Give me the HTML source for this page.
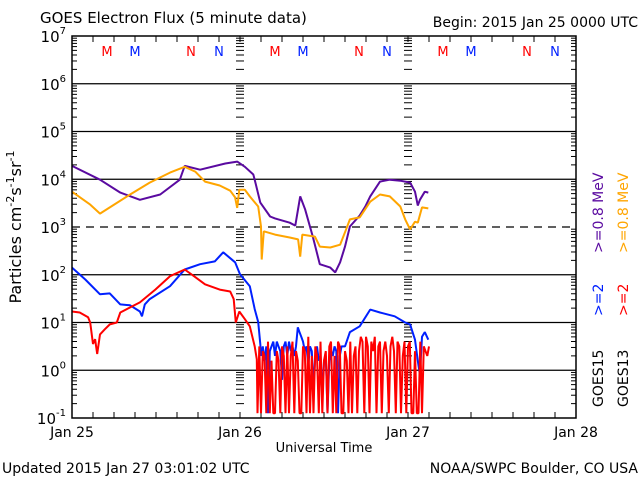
<!DOCTYPE html>
<html><head><meta charset="utf-8"><style>
body{margin:0;background:#fff;}
svg{display:block;font-family:"DejaVu Sans","Liberation Sans",sans-serif;}
</style></head><body>
<svg id="chart" width="640" height="480" viewBox="0 0 640 480">
<rect width="640" height="480" fill="#fff"/>
<g id="grid"></g>
<g id="ticks"></g>
<g id="series"></g>
<rect x="72" y="36" width="504" height="382" fill="none" stroke="#000" stroke-width="1.5"/>
<g id="labels" font-size="14" fill="#000"></g>
<text x="40" y="23" font-size="15">GOES Electron Flux (5 minute data)</text>
<text x="638" y="27" font-size="14" text-anchor="end">Begin: 2015 Jan 25 0000 UTC</text>
<text transform="translate(21,227) rotate(-90)" font-size="16" text-anchor="middle">Particles cm<tspan dy="-7" font-size="11">-2</tspan><tspan dy="7">s</tspan><tspan dy="-7" font-size="11">-1</tspan><tspan dy="7">sr</tspan><tspan dy="-7" font-size="11">-1</tspan></text>
<text x="324" y="452" font-size="13" text-anchor="middle">Universal Time</text>
<text x="2" y="473" font-size="14">Updated 2015 Jan 27 03:01:02 UTC</text>
<text x="638" y="473" font-size="14" text-anchor="end">NOAA/SWPC Boulder, CO USA</text>
<g font-size="14">
<text transform="translate(603,253) rotate(-90)" fill="#5a0aa0">&gt;=0.8 MeV</text>
<text transform="translate(628,253) rotate(-90)" fill="#ffa500">&gt;=0.8 MeV</text>
<text transform="translate(603,316) rotate(-90)" fill="#0020ff">&gt;=2</text>
<text transform="translate(628,316) rotate(-90)" fill="#ff0000">&gt;=2</text>
<text transform="translate(603,407) rotate(-90)" fill="#000">GOES15</text>
<text transform="translate(628,407) rotate(-90)" fill="#000">GOES13</text>
</g>
</svg>
<script>
const days = ["Jan 25","Jan 26","Jan 27","Jan 28"];
const decades = [-1,0,1,2,3,4,5,6,7];
const purpleT = [0,4,6.9,9.7,12.6,15.4,16.1,18.3,21.9,23.6,24.7,25.9,26.1,26.9,28.3,29,31.1,31.9,32.6,33.3,34.4,35.4,36.9,37.6,38.3,39,39.7,41.1,41.9,42.6,44,45.4,46.9,48.3,49,49.4,49.7,50.4,50.9];
const purpleV = [4.28,3.99,3.72,3.57,3.68,3.99,4.28,4.20,4.33,4.37,4.26,4.10,3.99,3.51,3.22,3.18,3.09,3.03,3.64,3.37,2.80,2.22,2.15,2.05,2.26,2.59,3.01,3.24,3.43,3.64,3.95,3.99,3.97,3.93,3.74,3.45,3.57,3.74,3.72];
const orangeT = [0,2.6,4,5.4,8.3,11.1,14,16.1,17.6,19,21.1,22.6,23.3,23.6,23.9,24.7,25.4,26.6,27,27.1,27.4,29,31.1,32.3,32.6,32.9,34.7,35.4,36.9,38.3,39,39.7,41.1,42.6,44,45.4,46.9,47.6,48.3,49,49.4,50,50.9];
const orangeV = [3.74,3.47,3.28,3.41,3.68,3.93,4.14,4.26,4.16,3.95,3.87,3.76,3.62,3.40,3.78,3.78,3.64,3.43,3.01,2.32,2.91,2.84,2.78,2.74,2.38,2.84,2.80,2.59,2.57,2.63,2.89,3.16,3.20,3.53,3.68,3.64,3.43,3.16,2.95,3.11,3.09,3.41,3.39];
const blueT = [0,1.9,4,5.4,6.9,8.3,9.7,10,10.4,11.1,14,16.1,18.3,20.4,21.6,23.3,24,25.4,26.1,26.6,26.9];
const blueV = [2.15,1.90,1.59,1.61,1.38,1.36,1.23,1.13,1.38,1.49,1.76,2.11,2.22,2.28,2.47,2.26,2.01,1.76,1.28,1.01,0.55];
const blueNoisyStart = 27, blueNoisyStep = 0.25;
const blueNoisyV = [0.3,0.5,0.2,0.5,-0.9,0.4,0.5,0.6,0.3,0.6,0.5,0.4,-0.2,0.5,0.6,0.3,0.6,0.4,0.5,0.3,0.5,0.9,0.8,0.7,0.6,0.4,0.5,0.1,0.5,0.4,-0.4,0.3,0.5,0.2,0.3,-0.5,0.2,0.3,-0.9,0.2,0.4,0.3,0.5,0.4,-0.9,0.3,0.5,0.5];
const blueLateT = [39,39.7,41.1,42.6,44,46.1,47.6,48.3,49,49.4,49.7,50,50.4,50.9];
const blueLateV = [0.5,0.8,0.92,1.27,1.21,1.13,1.0,0.96,0.64,0.2,-0.1,0.7,0.8,0.64];
const redT = [0,1.1,2.3,2.6,3.0,3.3,3.6,4,4.7,5.4,6.4,6.9,9.7,11.9,14,16.1,17.6,19,21.1,22.6,23.1,23.4,23.9,24.7,25.4,26.1,26.4];
const redV = [1.23,1.21,1.11,1.0,0.55,0.65,0.34,0.75,0.86,0.96,1.0,1.21,1.42,1.69,1.97,2.11,1.95,1.80,1.69,1.65,1.49,1.0,1.23,1.07,0.92,0.50,0.23];
const redNoisyStart = 26.5, redNoisyStep = 0.25;
const redNoisyV = [-0.9,0.5,-0.9,0.4,0.3,-0.9,0.6,-0.9,0.2,-0.9,-0.9,0.4,0.2,-0.9,0.5,0.3,-0.9,0.5,-0.9,0.3,0.6,-0.9,0.4,0.2,-0.9,-0.9,0.5,0.4,-0.9,0.7,-0.9,0.3,-0.9,0.5,0.3,-0.9,0.6,-0.9,0.2,0.4,-0.9,0.5,0.6,-0.9,0.3,-0.9,0.6,0.5,-0.9,-0.9,0.4,0.2,-0.9,0.6,-0.9,0.3,0.5,-0.9,0.4,0.7,0.6,-0.9,0.7,0.5,-0.9,0.6,0.4,0.7,-0.9,0.5,0.6,-0.9,0.4,0.6,0.3,-0.9,0.5,0.7,0.4,-0.9,0.6,0.5,-0.9,0.3,0.6,-0.9,0.5,0.6,-0.9,-0.9,0.4,-0.9,-0.9,0.6,-0.9,0.5,0.4,0.3,0.5];
const markerLabels = ["M","M","N","N"];
const markerColors = ["#ff0000","#0020ff","#ff0000","#0020ff"];
const markerHours = [5,9,17,21];

const NS="http://www.w3.org/2000/svg";
const X0=72,X1=576,Y0=418,Y1=36;
function xs(h){return X0+(h/72)*(X1-X0);}
function ys(v){return Y0-(v+1)/8*(Y0-Y1);}
function mk(tag,attrs,parent){const e=document.createElementNS(NS,tag);for(const k in attrs)e.setAttribute(k,attrs[k]);parent.appendChild(e);return e;}
const grid=document.getElementById('grid'),ticks=document.getElementById('ticks'),series=document.getElementById('series'),labels=document.getElementById('labels');

decades.forEach(d=>{
  if(d>-1&&d<7){
    const ln=mk('line',{x1:X0,x2:X1,y1:ys(d),y2:ys(d),stroke:'#000','stroke-width':1.3},grid);
    if(d===3) ln.setAttribute('stroke-dasharray','8,6');
    
    
  }
  const t=mk('text',{x:66,y:ys(d)+6,'text-anchor':'end','font-size':15},labels);
  t.innerHTML='10<tspan dy="-8" font-size="10">'+d+'</tspan>';
  
  
  if(d<7){
    for(let m=2;m<=9;m++){
      const y=ys(d+Math.log10(m));
      [[X0,X0+5],[X1-5,X1],[xs(24)-4,xs(24)+4],[xs(48)-4,xs(48)+4]].forEach(p=>{
        const tk=mk('line',{x1:p[0],x2:p[1],y1:y,y2:y,stroke:'#000','stroke-width':1},ticks);
        
        
      });
    }
  }
});
for(let h=3;h<72;h+=3){
  const x=xs(h);
  const tb=mk('line',{x1:x,x2:x,y1:Y0,y2:Y0-6,stroke:'#000','stroke-width':1},ticks);
  
  
  const tt=mk('line',{x1:x,x2:x,y1:Y1,y2:Y1+6,stroke:'#000','stroke-width':1},ticks);
  
  
}
days.forEach((d,i)=>{
  const t=mk('text',{x:xs(i*24),y:437,'text-anchor':'middle','font-size':14},labels);
  t.textContent=d;
  
  
});
for(let day=0;day<3;day++){
  markerLabels.forEach((m,i)=>{
    const t=mk('text',{x:xs(day*24+markerHours[i]),y:56,'text-anchor':'middle','font-size':13,fill:markerColors[i]},labels);
    t.textContent=m;
    
    
  });
}
function path(T,V,color,name){
  const d=T.map((t,i)=>(i?'L':'M')+xs(t).toFixed(1)+','+ys(V[i]).toFixed(1)).join('');
  const p=mk('path',{d:d,fill:'none',stroke:color,'stroke-width':2,'stroke-linejoin':'bevel'},series);
  
  
}
const bnT=blueNoisyV.map((v,i)=>blueNoisyStart+i*blueNoisyStep);
const rnT=redNoisyV.map((v,i)=>redNoisyStart+i*redNoisyStep);
path(purpleT,purpleV,'#5a0aa0','series-goes15-08mev');
path(orangeT,orangeV,'#ffa500','series-goes13-08mev');
path(blueT.concat(bnT,blueLateT),blueV.concat(blueNoisyV,blueLateV),'#0020ff','series-goes15-2mev');
path(redT.concat(rnT),redV.concat(redNoisyV),'#ff0000','series-goes13-2mev');
</script>
</body></html>
